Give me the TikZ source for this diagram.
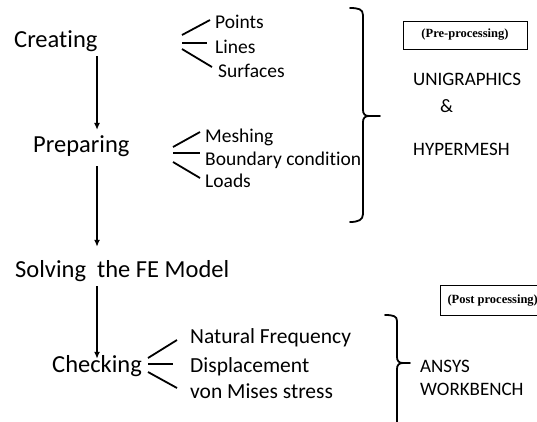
\documentclass[tikz,border=0pt]{standalone}
\usepackage{fontspec}
\setmainfont{Carlito}[Ligatures=NoCommon]
\newfontfamily\boxfont{Liberation Serif}
\usetikzlibrary{arrows.meta}

\tikzset{
  stage/.style={anchor=base west, inner sep=0pt, font=\fontsize{24.5}{29}\selectfont},
  item/.style={anchor=base west, inner sep=0pt, font=\fontsize{19.5}{23}\selectfont},
  bigitem/.style={anchor=base west, inner sep=0pt, font=\fontsize{21.5}{25}\selectfont},
  tool/.style={anchor=base west, inner sep=0pt, font=\fontsize{19}{23}\selectfont},
  phasebox/.style={draw, line width=1pt, inner sep=0pt, font=\boxfont\bfseries\fontsize{12.5}{15}\selectfont},
  flow/.style={line width=1.7pt, -{Latex[length=7pt,width=6pt]}},
  fork/.style={line width=1.8pt},
  midfork/.style={line width=2.6pt},
  bracket/.style={line width=1.8pt, line cap=round}
}

\begin{document}
\begin{tikzpicture}[x=1pt,y=-1pt]
    \useasboundingbox (0,0) rectangle (537,421);
    \clip (0,0) rectangle (537,421);
    % stages
    \node[stage] (creating) at (14,47) {Creating};
    \node[stage] (preparing) at (33,152) {Preparing};
    \node[stage] (solving) at (15,277) {Solving\ \ the FE Model};
    \node[stage] (checking) at (52,372) {Checking};
    \draw[flow, shorten <=5pt, shorten >=5pt] (creating.south -| checking.north) -- (preparing.north -| checking.north);
    \draw[flow, shorten <=10pt, shorten >=13pt] (preparing.south -| checking.north) -- (solving.north -| checking.north);
    \draw[flow, shorten <=5pt, shorten >=-4pt] (solving.south -| checking.north) -- (checking.north);
    % creating items
    \node[item] (points) at (215,28) {Points};
    \node[item] (lines) at (215,53) {Lines};
    \node[item] (surfaces) at (218,77) {Surfaces};
    \coordinate (cfork) at (182,43);
    \draw[fork] ([yshift=8pt]cfork) -- ([shift={(-5pt,8pt)}]points.base west);
    \draw[midfork] (cfork) -- ([shift={(-8pt,10pt)}]lines.base west);
    \draw[fork] ([yshift=-6pt]cfork) -- ([shift={(-6pt,10pt)}]surfaces.base west);
    % preparing items
    \node[item] (meshing) at (205,142) {Meshing};
    \node[item] (boundary) at (205,165) {Boundary condition};
    \node[item] (loads) at (205,187) {Loads};
    \coordinate (pfork) at (173,153);
    \draw[fork] ([yshift=6pt]pfork) -- ([shift={(-5pt,10pt)}]meshing.base west);
    \draw[midfork] (pfork) -- ([shift={(-5pt,12pt)}]boundary.base west);
    \draw[fork] ([yshift=-9pt]pfork) -- ([shift={(-5pt,9pt)}]loads.base west);
    % checking items
    \node[bigitem] (natfreq) at (190,343) {Natural Frequency};
    \node[bigitem] (displ) at (190,372) {Displacement};
    \node[bigitem] (vonmises) at (190,398) {von Mises stress};
    \coordinate (kfork) at (148,364);
    \draw[fork] ([yshift=6pt]kfork) -- ([shift={(-13pt,3pt)}]natfreq.base west);
    \draw[midfork] (kfork) -- ([shift={(-17pt,8pt)}]displ.base west);
    \draw[fork] ([yshift=-8pt]kfork) -- ([shift={(-13pt,10pt)}]vonmises.base west);
    % pre-processing side
    \draw[bracket] (350,8) .. controls (358,8) and (363,9) .. (363,15) -- (363,110)
        .. controls (363,114) and (365,116) .. (369,116) -- (380,116);
    \draw[bracket] (369,116) .. controls (365,116) and (363,118) .. (363,122) -- (363,214)
        .. controls (363,220) and (358,222) .. (350,222);
    \node[phasebox, minimum width=124pt, minimum height=28pt] (prebox) at (465,35) {(Pre-processing)};
    \node[tool] (unigraphics) at (413,85) {UNIGRAPHICS};
    \node[tool] (amp) at (440,112) {\&};
    \node[tool] (hypermesh) at (413,155) {HYPERMESH};
    % post-processing side
    \draw[bracket] (385,315) .. controls (393,315) and (397,316) .. (397,321) -- (397,357)
        .. controls (397,361) and (399,363) .. (403,363) -- (410,363);
    \draw[bracket] (403,363) .. controls (399,363) and (397,365) .. (397,369) -- (397,425);
    \node[phasebox, anchor=north west, inner xsep=7pt, minimum height=30pt] (postbox) at (440,285) {(Post processing)};
    \node[tool] (ansys) at (420,372) {ANSYS};
    \node[tool] (workbench) at (420,395) {WORKBENCH};
\end{tikzpicture}
\end{document}
